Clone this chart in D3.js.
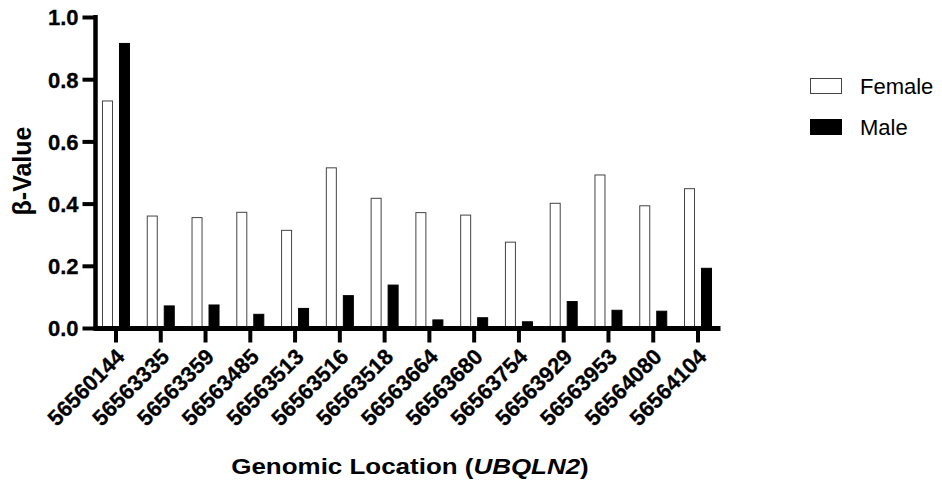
<!DOCTYPE html>
<html>
<head>
<meta charset="utf-8">
<script src="https://cdn.jsdelivr.net/npm/d3@7"></script>
<style>
  body { margin: 0; background: #fff; }
  text { font-family: 'Liberation Sans', Arial, sans-serif; fill: #000; }
</style>
</head>
<body>
<div id="graf"></div>
<script>
// !DATOS
const locations = ['56560144', '56563335', '56563359', '56563485', '56563513', '56563516', '56563518',
  '56563664', '56563680', '56563754', '56563929', '56563953', '56564080', '56564104']
const female = [0.73, 0.36, 0.355, 0.372, 0.314, 0.515, 0.417, 0.371, 0.363, 0.276, 0.401, 0.492, 0.393, 0.448]
const male = [0.915, 0.071, 0.074, 0.044, 0.063, 0.104, 0.138, 0.026, 0.033, 0.02, 0.085, 0.057, 0.054, 0.192]
const sexes = ['Female', 'Male']
const yTicks = [0, 0.2, 0.4, 0.6, 0.8, 1.0]

const anchoTotal = 942
const altoTotal = 484

const svg = d3.select('#graf')
  .append('svg')
  .attr('width', anchoTotal)
  .attr('height', altoTotal)

// !ESCALADORES
const x0 = d3.scaleBand().domain(locations).range([93.6, 720.4]).padding(0)
const x1 = d3.scaleBand().domain(sexes).range([0, 28]).paddingInner(0.353)
const y = d3.scaleLinear().domain([0, 1]).range([328, 17])
const fill = d3.scaleOrdinal().domain(sexes).range(['#ffffff', '#000000'])
const stroke = d3.scaleOrdinal().domain(sexes).range(['#444444', '#000000'])

const rows = locations.map((loc, i) => ({ loc, vals: [
  { sex: 'Female', v: female[i] },
  { sex: 'Male', v: male[i] },
] }))

// !BARRAS
const grupos = svg.append('g')
  .selectAll('g')
  .data(rows)
  .join('g')
  .attr('transform', (d) => `translate(${x0(d.loc) + (x0.bandwidth() - 28) / 2}, 0)`)

grupos.selectAll('rect')
  .data((d) => d.vals)
  .join('rect')
  .attr('x', (d) => x1(d.sex) + 0.5)
  .attr('y', (d) => y(d.v))
  .attr('width', x1.bandwidth() - 1)
  .attr('height', (d) => y(0) - y(d.v))
  .attr('fill', (d) => fill(d.sex))
  .attr('stroke', (d) => stroke(d.sex))
  .attr('stroke-width', 1)

// !EJES
const ejeY = svg.append('g')
  .attr('transform', 'translate(95.5, 0)')
  .call(d3.axisLeft(y).tickValues(yTicks).tickSize(13).tickPadding(4).tickFormat(d3.format('.1f')))
ejeY.select('.domain').attr('stroke-width', 4.5).attr('d', `M0,${y(1) - 2}V${y(0) + 2}`)
ejeY.selectAll('.tick line').attr('stroke-width', 4)
ejeY.selectAll('.tick text')
  .attr('font-size', 22)
  .attr('font-weight', 'bold')
  .attr('stroke', '#000')
  .attr('stroke-width', 0.3)
  .attr('dy', '0.36em')

const ejeX = svg.append('g')
  .attr('transform', 'translate(0, 328.5)')
  .call(d3.axisBottom(x0).tickSize(14).tickFormat(''))
ejeX.select('.domain').attr('stroke-width', 5).attr('d', 'M93.5,0H720.5')
ejeX.selectAll('.tick line').attr('stroke-width', 4)

// etiquetas rotadas
svg.append('g')
  .selectAll('text')
  .data(locations)
  .join('text')
  .attr('transform', (d) => `translate(${x0(d) + x0.bandwidth() / 2 + 10}, 358) rotate(-45)`)
  .attr('text-anchor', 'end')
  .attr('font-size', 22)
  .attr('font-weight', 'bold')
  .attr('stroke', '#000')
  .attr('stroke-width', 0.3)
  .text((d) => d)

// !TITULOS
const tituloX = svg.append('text')
  .attr('transform', 'translate(410, 474) scale(1.18, 1)')
  .attr('text-anchor', 'middle')
  .attr('font-size', 22)
  .attr('font-weight', 'bold')
tituloX.append('tspan').text('Genomic Location (')
tituloX.append('tspan').attr('font-style', 'italic').text('UBQLN2')
tituloX.append('tspan').text(')')

svg.append('text')
  .attr('transform', 'translate(31, 171) rotate(-90)')
  .attr('text-anchor', 'middle')
  .attr('font-size', 25)
  .attr('font-weight', 'bold')
  .text('β-Value')

// !LEYENDA
const leyenda = svg.append('g')
  .selectAll('g')
  .data(sexes)
  .join('g')
  .attr('transform', (d, i) => `translate(810, ${78 + i * 41})`)

leyenda.append('rect')
  .attr('x', 0.5)
  .attr('y', 0.5)
  .attr('width', 31)
  .attr('height', 15)
  .attr('fill', (d) => fill(d))
  .attr('stroke', (d) => stroke(d))

leyenda.append('text')
  .attr('x', 50)
  .attr('y', 8)
  .attr('dy', '0.36em')
  .attr('font-size', 22)
  .text((d) => d)
</script>
</body>
</html>
